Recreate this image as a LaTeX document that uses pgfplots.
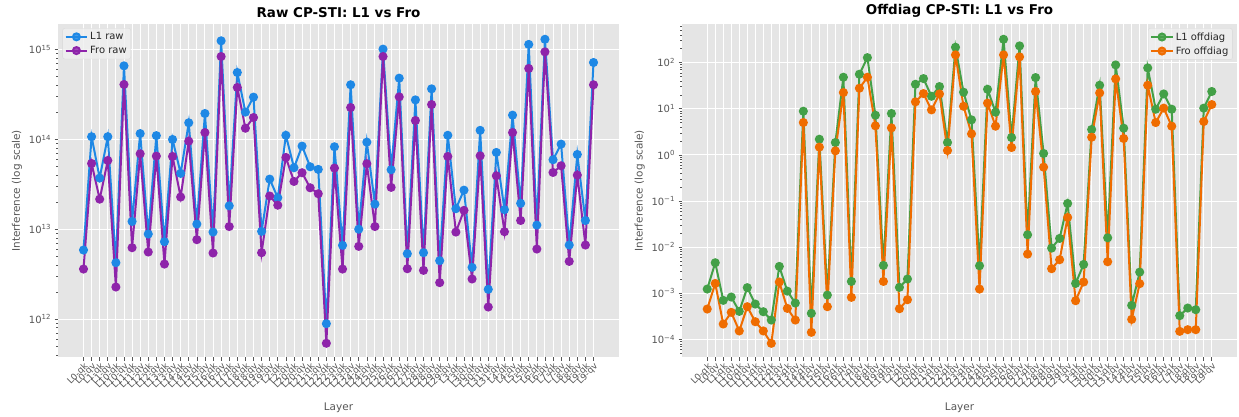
\documentclass[border=0pt]{standalone}
\usepackage{fontspec}
\setmainfont{DejaVu Sans}
\usepackage{pgfplots}
\pgfplotsset{compat=1.18}
\usepackage{pgfplotstable}
\definecolor{bgc}{HTML}{E5E5E5}
\definecolor{tickgray}{HTML}{555555}
\definecolor{l1blue}{HTML}{1E88E5}
\definecolor{fropurple}{HTML}{8E24AA}
\definecolor{l1green}{HTML}{43A047}
\definecolor{froorange}{HTML}{EF6C00}

\newcommand\mylogtick{\pgfmathparse{int(round(\tick/2.302585093))}\let\myexp=\pgfmathresult\ifnum\myexp<0 10\textsuperscript{\char"2212\relax\number-\myexp}\else 10\textsuperscript{\myexp}\fi}

\pgfplotstableread{
i l1 fro
0 5.86e12 3.60e12
1 1.07e14 5.39e13
2 3.71e13 2.16e13
3 1.07e14 5.82e13
4 4.24e12 2.27e12
5 6.58e14 4.08e14
6 1.22e13 6.22e12
7 1.16e14 6.91e13
8 8.83e12 5.57e12
9 1.10e14 6.51e13
10 7.26e12 4.09e12
11 9.97e13 6.45e13
12 4.18e13 2.28e13
13 1.53e14 9.55e13
14 1.14e13 7.64e12
15 1.94e14 1.19e14
16 9.29e12 5.43e12
17 1.25e15 8.36e14
18 1.82e13 1.07e13
19 5.55e14 3.78e14
20 2.01e14 1.33e14
21 2.95e14 1.75e14
22 9.46e12 5.47e12
23 3.61e13 2.34e13
24 2.24e13 1.85e13
25 1.11e14 6.29e13
26 4.83e13 3.40e13
27 8.41e13 4.25e13
28 4.95e13 2.89e13
29 4.63e13 2.48e13
30 8.88e11 5.37e11
31 8.27e13 4.79e13
32 6.61e12 3.60e12
33 4.05e14 2.26e14
34 1.00e13 6.44e12
35 9.31e13 5.35e13
36 1.90e13 1.07e13
37 1.01e15 8.36e14
38 4.59e13 2.92e13
39 4.80e14 2.97e14
40 5.33e12 3.63e12
41 2.75e14 1.62e14
42 5.47e12 3.48e12
43 3.65e14 2.44e14
44 4.46e12 2.54e12
45 1.11e14 6.45e13
46 1.69e13 9.29e12
47 2.72e13 1.62e13
48 3.76e12 2.79e12
49 1.26e14 6.56e13
50 2.14e12 1.36e12
51 7.15e13 3.93e13
52 1.65e13 9.37e12
53 1.86e14 1.19e14
54 1.94e13 1.25e13
55 1.14e15 6.15e14
56 1.11e13 6.01e12
57 1.30e15 9.42e14
58 5.93e13 4.28e13
59 8.85e13 5.08e13
60 6.66e12 4.38e12
61 6.79e13 4.00e13
62 1.25e13 6.66e12
63 7.17e14 4.05e14
}\rawtab

\pgfplotstableread{
i l1 fro
0 1.23e-3 4.54e-4
1 4.58e-3 1.63e-3
2 7.00e-4 2.15e-4
3 8.26e-4 3.85e-4
4 4.04e-4 1.52e-4
5 1.32e-3 5.10e-4
6 5.82e-4 2.41e-4
7 3.97e-4 1.52e-4
8 2.62e-4 8.19e-5
9 3.81e-3 1.75e-3
10 1.11e-3 4.69e-4
11 6.12e-4 2.62e-4
12 8.83 5.01
13 3.66e-4 1.42e-4
14 2.18 1.47
15 9.12e-4 5.10e-4
16 1.85 1.22
17 48.1 22.4
18 1.80e-3 8.13e-4
19 55.9 27.8
20 128 48.1
21 7.23 4.25
22 4.01e-3 1.80e-3
23 7.86 3.84
24 1.34e-3 4.61e-4
25 2.03e-3 7.23e-4
26 33.9 14.1
27 45.0 21.3
28 18.6 9.44
29 30.2 20.9
30 1.85 1.24
31 215 147
32 22.8 11.3
33 5.73 2.85
34 3.94e-3 1.23e-3
35 26.4 13.2
36 8.40 4.18
37 320 147
38 2.37 1.44
39 230 133
40 1.85e-2 7.05e-3
41 47.3 23.6
42 1.07 0.541
43 9.51e-3 3.40e-3
44 1.54e-2 5.32e-3
45 8.83e-2 4.39e-2
46 1.63e-3 6.88e-4
47 4.21e-3 1.75e-3
48 3.54 2.41
49 32.3 22.0
50 1.59e-2 4.81e-3
51 89.0 44.3
52 3.78 2.26
53 5.45e-4 2.71e-4
54 2.87e-3 1.61e-3
55 76.6 32.3
56 9.75 5.01
57 20.9 10.3
58 9.75 4.18
59 3.26e-4 1.49e-4
60 4.77e-4 1.62e-4
61 4.39e-4 1.62e-4
62 10.3 5.27
63 23.6 12.3
}\offtab

\pgfplotsset{
  ggstyle/.style={
    scale only axis,
    height=333bp,
    xmin=-3.15, xmax=66.15,
    axis background/.style={fill=bgc},
    axis line style={draw=none},
    grid=major,
    major grid style={white, line width=0.9bp},
    tick align=outside,
    xtick pos=bottom, ytick pos=left,
    major tick length=3.5bp, minor tick length=2bp,
    tick style={tickgray, line width=0.6bp},
    minor tick style={tickgray, line width=0.5bp},
    tick label style={text=tickgray, font=\fontsize{10}{12}\selectfont},
    yticklabel={\mylogtick},
    xtick={0,...,63},
    xticklabels={L0-qk,L0-qv,L1-qk,L1-qv,L10-qk,L10-qv,L11-qk,L11-qv,L12-qk,L12-qv,L13-qk,L13-qv,L14-qk,L14-qv,L15-qk,L15-qv,L16-qk,L16-qv,L17-qk,L17-qv,L18-qk,L18-qv,L19-qk,L19-qv,L2-qk,L2-qv,L20-qk,L20-qv,L21-qk,L21-qv,L22-qk,L22-qv,L23-qk,L23-qv,L24-qk,L24-qv,L25-qk,L25-qv,L26-qk,L26-qv,L27-qk,L27-qv,L28-qk,L28-qv,L29-qk,L29-qv,L3-qk,L3-qv,L30-qk,L30-qv,L31-qk,L31-qv,L4-qk,L4-qv,L5-qk,L5-qv,L6-qk,L6-qv,L7-qk,L7-qv,L8-qk,L8-qv,L9-qk,L9-qv},
    xticklabel style={rotate=45, anchor=north east, font=\fontsize{9}{10}\selectfont, inner sep=1bp},
    xlabel={Layer},
    xlabel style={at={(axis description cs:0.5,-0.152)}, anchor=center},
    ylabel={Interference (log scale)},
    label style={font=\fontsize{10.5}{12}\selectfont, text=tickgray},
    title style={font=\bfseries\fontsize{13.5}{15}\selectfont, yshift=-3bp},
    legend cell align=left,
    legend style={font=\fontsize{10}{12}\selectfont, text=black!85, fill=bgc!60!white, fill opacity=0.8, text opacity=1, draw=black!15, rounded corners=2bp, inner sep=2bp, row sep=1bp},
    legend image code/.code={\draw[mark repeat=2,mark phase=2,##1] plot coordinates {(0cm,0cm) (0.38cm,0cm) (0.76cm,0cm)};},
  },
  ggline/.style={line width=2bp, mark=*, mark size=3.5bp, mark options={solid}},
}

\begin{document}
\begin{tikzpicture}
\path[use as bounding box] (0,0) rectangle (1239bp,417bp);
\begin{axis}[ymode=log, ggstyle, at={(58bp,59.7bp)}, anchor=south west, width=561bp,
  ymin=3.75e11, ymax=1.91e15,
  title={Raw CP-STI: L1 vs Fro},
  legend style={at={(0.008,0.988)}, anchor=north west}]
\addplot[ggline, color=l1blue] table[x=i, y=l1] {\rawtab};
\addplot[ggline, color=fropurple] table[x=i, y=fro] {\rawtab};
\legend{L1 raw, Fro raw}
\end{axis}
\begin{axis}[ymode=log, ggstyle, at={(682bp,59.7bp)}, anchor=south west, width=555bp,
  ymin=4.08e-5, ymax=676,
  title={Offdiag CP-STI: L1 vs Fro},
  legend style={at={(0.992,0.988)}, anchor=north east}]
\addplot[ggline, color=l1green] table[x=i, y=l1] {\offtab};
\addplot[ggline, color=froorange] table[x=i, y=fro] {\offtab};
\legend{L1 offdiag, Fro offdiag}
\end{axis}
\end{tikzpicture}
\end{document}
